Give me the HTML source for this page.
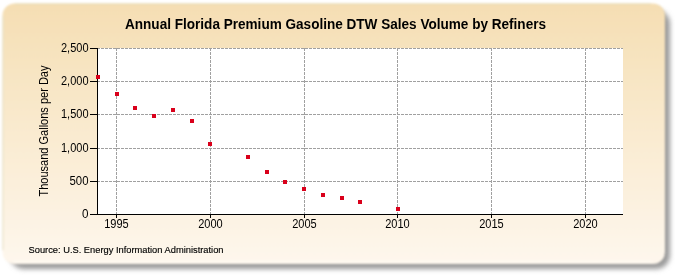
<!DOCTYPE html>
<html><head><meta charset="utf-8"><style>
html,body{margin:0;padding:0;background:#fff;width:675px;height:275px;overflow:hidden}
svg{display:block;will-change:transform}
text{font-family:"Liberation Sans",sans-serif;fill:#000}
</style></head><body>
<svg width="675" height="275" viewBox="0 0 675 275">
<defs>
<linearGradient id="bg" x1="0" y1="0" x2="0" y2="1">
<stop offset="0" stop-color="#f5deb3"/>
<stop offset="1" stop-color="#fef7ed"/>
</linearGradient>
<filter id="blur" x="-5%" y="-5%" width="110%" height="110%"><feGaussianBlur stdDeviation="2.8"/></filter>
<filter id="soft" x="-2%" y="-2%" width="104%" height="104%"><feGaussianBlur stdDeviation="1.2"/></filter>
</defs>
<rect x="10" y="10" width="660" height="259" rx="14" fill="#9a9a9a" filter="url(#blur)"/>
<g filter="url(#soft)">
<rect x="2.5" y="3.5" width="662.5" height="260.5" rx="12" fill="url(#bg)"/>
<path d="M 14.5 4 H 651" stroke="#e6dcb6" stroke-width="1.2" fill="none"/>
<path d="M 3 16 V 250" stroke="#e8e2c8" stroke-width="1.2" fill="none"/>
<path d="M 14 261.5 H 651" stroke="#fffdf5" stroke-width="1.2" fill="none"/>
</g>
<rect x="98" y="48" width="525" height="166" fill="#fff"/>
<g stroke="#a0a0a0" stroke-width="1" stroke-dasharray="3 1" shape-rendering="crispEdges">
<line x1="97" y1="48.5" x2="623" y2="48.5"/>
<line x1="97" y1="81.5" x2="623" y2="81.5"/>
<line x1="97" y1="114.5" x2="623" y2="114.5"/>
<line x1="97" y1="148.5" x2="623" y2="148.5"/>
<line x1="97" y1="181.5" x2="623" y2="181.5"/>
<line x1="116.5" y1="48" x2="116.5" y2="214"/>
<line x1="210.5" y1="48" x2="210.5" y2="214"/>
<line x1="304.5" y1="48" x2="304.5" y2="214"/>
<line x1="397.5" y1="48" x2="397.5" y2="214"/>
<line x1="491.5" y1="48" x2="491.5" y2="214"/>
<line x1="585.5" y1="48" x2="585.5" y2="214"/>
</g>
<g stroke="#000" stroke-width="1" shape-rendering="crispEdges">
<line x1="97.5" y1="48" x2="97.5" y2="215"/>
<line x1="97" y1="214.5" x2="623" y2="214.5"/>
<line x1="90" y1="48.5" x2="97" y2="48.5"/>
<line x1="90" y1="81.5" x2="97" y2="81.5"/>
<line x1="90" y1="114.5" x2="97" y2="114.5"/>
<line x1="90" y1="148.5" x2="97" y2="148.5"/>
<line x1="90" y1="181.5" x2="97" y2="181.5"/>
<line x1="90" y1="214.5" x2="97" y2="214.5"/>
<line x1="116.5" y1="214" x2="116.5" y2="218"/>
<line x1="210.5" y1="214" x2="210.5" y2="218"/>
<line x1="304.5" y1="214" x2="304.5" y2="218"/>
<line x1="397.5" y1="214" x2="397.5" y2="218"/>
<line x1="491.5" y1="214" x2="491.5" y2="218"/>
<line x1="585.5" y1="214" x2="585.5" y2="218"/>
</g>
<g fill="#d9001b" shape-rendering="crispEdges">
<rect x="96" y="75" width="4" height="4"/>
<rect x="115" y="92" width="4" height="4"/>
<rect x="133" y="106" width="4" height="4"/>
<rect x="152" y="114" width="4" height="4"/>
<rect x="171" y="108" width="4" height="4"/>
<rect x="190" y="119" width="4" height="4"/>
<rect x="208" y="142" width="4" height="4"/>
<rect x="246" y="155" width="4" height="4"/>
<rect x="265" y="170" width="4" height="4"/>
<rect x="283" y="180" width="4" height="4"/>
<rect x="302" y="187" width="4" height="4"/>
<rect x="321" y="193" width="4" height="4"/>
<rect x="340" y="196" width="4" height="4"/>
<rect x="358" y="200" width="4" height="4"/>
<rect x="396" y="207" width="4" height="4"/>
</g>
<text x="335.5" y="28.5" text-anchor="middle" font-weight="bold" font-size="14" textLength="421" lengthAdjust="spacingAndGlyphs">Annual Florida Premium Gasoline DTW Sales Volume by Refiners</text>
<g font-size="12">
<text x="88.5" y="52" text-anchor="end" textLength="27.5" lengthAdjust="spacingAndGlyphs">2,500</text>
<text x="88.5" y="85" text-anchor="end" textLength="27.5" lengthAdjust="spacingAndGlyphs">2,000</text>
<text x="88.5" y="118" text-anchor="end" textLength="27.5" lengthAdjust="spacingAndGlyphs">1,500</text>
<text x="88.5" y="152" text-anchor="end" textLength="27.5" lengthAdjust="spacingAndGlyphs">1,000</text>
<text x="88.5" y="185" text-anchor="end" textLength="19" lengthAdjust="spacingAndGlyphs">500</text>
<text x="88.5" y="218" text-anchor="end" textLength="6.5" lengthAdjust="spacingAndGlyphs">0</text>
<text x="116.5" y="228" text-anchor="middle" textLength="24.5" lengthAdjust="spacingAndGlyphs">1995</text>
<text x="210.5" y="228" text-anchor="middle" textLength="24.5" lengthAdjust="spacingAndGlyphs">2000</text>
<text x="304.5" y="228" text-anchor="middle" textLength="24.5" lengthAdjust="spacingAndGlyphs">2005</text>
<text x="397.5" y="228" text-anchor="middle" textLength="24.5" lengthAdjust="spacingAndGlyphs">2010</text>
<text x="491.5" y="228" text-anchor="middle" textLength="24.5" lengthAdjust="spacingAndGlyphs">2015</text>
<text x="585.5" y="228" text-anchor="middle" textLength="24.5" lengthAdjust="spacingAndGlyphs">2020</text>
</g>
<text transform="translate(48,131) rotate(-90)" text-anchor="middle" font-size="12" textLength="131" lengthAdjust="spacingAndGlyphs">Thousand Gallons per Day</text>
<text x="28.5" y="253" font-size="9.6" stroke="#000" stroke-width="0.15" textLength="195" lengthAdjust="spacingAndGlyphs">Source: U.S. Energy Information Administration</text>
</svg>
</body></html>
